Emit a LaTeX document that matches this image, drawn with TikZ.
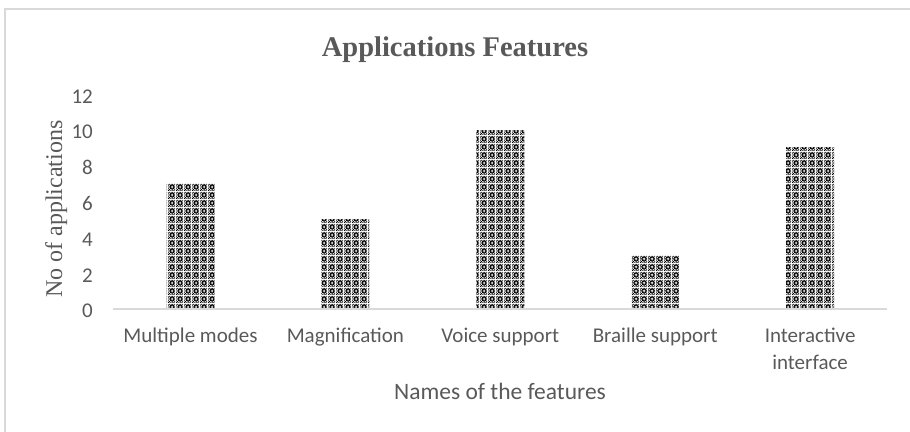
\documentclass[tikz,border=0pt]{standalone}
\usepackage{fontspec}
\setmainfont{Liberation Serif}
\newfontfamily\calfont{Carlito}
\usetikzlibrary{patterns}
\definecolor{txt}{HTML}{595959}
\definecolor{framegray}{HTML}{D9D9D9}

\pgfdeclarepatternformonly{confetti}{\pgfpointorigin}{\pgfqpoint{8pt}{8pt}}{\pgfqpoint{8pt}{8pt}}{%
  \foreach \px/\py in {0/0,2/0,4/0,6/0,
                       1/1,4/1,7/1,
                       0/2,2/2,3/2,4/2,5/2,6/2,
                       2/3,3/3,5/3,6/3,
                       0/4,1/4,2/4,6/4,7/4,
                       2/5,3/5,5/5,6/5,
                       0/6,2/6,3/6,4/6,5/6,6/6,
                       1/7,4/7,7/7}{%
    \pgfpathrectangle{\pgfqpoint{\px pt}{\py pt}}{\pgfqpoint{1pt}{1pt}}%
  }%
  \pgfusepath{fill}%
}

\begin{document}
\begin{tikzpicture}[x=1pt,y=-1pt,
  ticklbl/.style={font=\calfont\fontsize{21}{25.5}\selectfont, text=txt, inner sep=0pt},
  catlbl/.style={font=\calfont\fontsize{21}{27}\selectfont, text=txt, inner sep=0pt, align=center, anchor=north},
  bar/.style={fill=white, postaction={pattern=confetti, pattern color=black}},
  frameline/.style={draw=framegray, line width=1.5pt}]
\useasboundingbox (0,0) rectangle (910,431);
% outer frame
\draw[frameline] (5,445) -- (5,9) -- (925,9);
% title
\node[font=\bfseries\fontsize{28.5}{34}\selectfont, text=txt, anchor=base, inner sep=0pt] (title) at (455,56) {Applications Features};
% y axis label
\node[font=\fontsize{24}{29}\selectfont, text=txt, anchor=base, rotate=90, inner sep=0pt] (ylabel) at (62,209) {No of applications};
% tick labels
\foreach \v in {0,2,4,6,8,10,12}
  \node[ticklbl, anchor=east] (t\v) at (93,{309-\v*17.9+2}) {\v};
% bars
\foreach \i/\val in {0/7,1/5,2/10,3/3,4/9}
  \path[bar] ({190.5+\i*154.9-24},309) rectangle ({190.5+\i*154.9+24},{309-\val*17.9});
% axis
\draw[frameline] (113,309) -- (887,309);
% category labels
\node[catlbl] (c1) at (190.5,323) {\strut Multiple modes};
\node[catlbl] (c2) at (345.4,323) {\strut Magnification};
\node[catlbl] (c3) at (500.3,323) {\strut Voice support};
\node[catlbl] (c4) at (655.2,323) {\strut Braille support};
\node[catlbl] (c5) at (810.1,323) {\strut Interactive\\\strut interface};
% x axis title
\node[font=\calfont\fontsize{23.5}{28}\selectfont, text=txt, anchor=base, inner sep=0pt] (xlabel) at (500,399) {Names of the features};
\end{tikzpicture}
\end{document}
